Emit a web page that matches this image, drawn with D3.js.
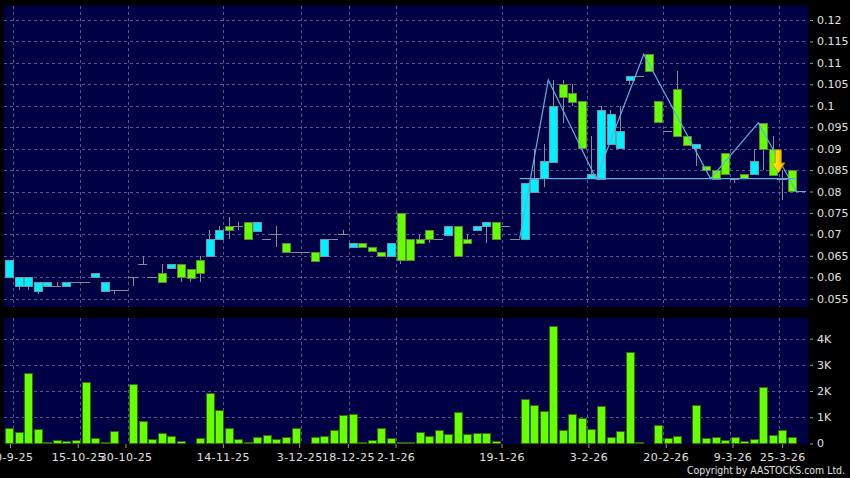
<!DOCTYPE html>
<html>
<head>
<meta charset="utf-8">
<script src="https://cdn.jsdelivr.net/npm/d3@7"></script>
<style>
  html, body { margin: 0; padding: 0; background: #000; }
  svg { display: block; }
  text { font-family: "DejaVu Sans", sans-serif; }
</style>
</head>
<body>
<div id="chart"></div>
<script>
// ----------------------
// DATA
// ----------------------
const opens = [
  0.060, 0.058, 0.058, 0.057, 0.058, 0.058, 0.058, 0.059, 0.059, 0.060,
  0.057, 0.057, 0.057, 0.060, 0.063, 0.060, 0.061, 0.062, 0.063, 0.062,
  0.064, 0.065, 0.069, 0.072, 0.072, 0.073, 0.071, 0.069, 0.070, 0.068,
  0.066, 0.066, 0.066, 0.065, 0.069, 0.070, 0.067, 0.068, 0.067, 0.066,
  0.065, 0.075, 0.069, 0.069, 0.071, 0.069, 0.070, 0.072, 0.069, 0.071,
  0.072, 0.073, 0.072, 0.069, 0.069, 0.080, 0.083, 0.087, 0.105, 0.103,
  0.101, 0.083, 0.083, 0.091, 0.090, 0.106, 0.107, 0.112, 0.101, 0.094,
  0.104, 0.093, 0.090, 0.086, 0.085, 0.089, 0.083, 0.084, 0.084, 0.096,
  0.090, 0.083, 0.085
];
const highs = [
  0.064, 0.060, 0.060, 0.059, 0.059, 0.059, 0.059, 0.059, 0.059, 0.061,
  0.059, 0.057, 0.057, 0.060, 0.065, 0.060, 0.063, 0.063, 0.063, 0.062,
  0.065, 0.071, 0.072, 0.074, 0.073, 0.073, 0.073, 0.069, 0.072, 0.068,
  0.066, 0.066, 0.066, 0.069, 0.069, 0.071, 0.068, 0.068, 0.067, 0.066,
  0.068, 0.075, 0.069, 0.070, 0.071, 0.069, 0.072, 0.072, 0.070, 0.072,
  0.073, 0.073, 0.072, 0.069, 0.082, 0.090, 0.091, 0.106, 0.106, 0.105,
  0.101, 0.093, 0.100, 0.099, 0.100, 0.107, 0.107, 0.112, 0.101, 0.094,
  0.108, 0.093, 0.091, 0.086, 0.085, 0.089, 0.083, 0.084, 0.090, 0.096,
  0.093, 0.085, 0.085
];
const lows = [
  0.060, 0.057, 0.057, 0.056, 0.058, 0.058, 0.058, 0.059, 0.059, 0.060,
  0.057, 0.056, 0.057, 0.058, 0.063, 0.060, 0.059, 0.062, 0.059, 0.059,
  0.059, 0.065, 0.069, 0.069, 0.071, 0.069, 0.071, 0.069, 0.067, 0.066,
  0.066, 0.066, 0.064, 0.065, 0.069, 0.070, 0.067, 0.067, 0.066, 0.065,
  0.065, 0.063, 0.064, 0.068, 0.068, 0.069, 0.070, 0.065, 0.068, 0.071,
  0.068, 0.069, 0.072, 0.069, 0.069, 0.080, 0.081, 0.087, 0.096, 0.100,
  0.090, 0.083, 0.083, 0.091, 0.090, 0.105, 0.107, 0.108, 0.096, 0.094,
  0.093, 0.091, 0.086, 0.085, 0.083, 0.084, 0.082, 0.083, 0.084, 0.085,
  0.084, 0.078, 0.080
];
const closes = [
  0.064, 0.060, 0.060, 0.059, 0.059, 0.058, 0.059, 0.059, 0.059, 0.061,
  0.059, 0.057, 0.057, 0.060, 0.063, 0.060, 0.059, 0.063, 0.060, 0.060,
  0.061, 0.069, 0.071, 0.071, 0.072, 0.069, 0.073, 0.069, 0.070, 0.066,
  0.066, 0.066, 0.064, 0.069, 0.069, 0.070, 0.068, 0.067, 0.066, 0.065,
  0.068, 0.064, 0.064, 0.068, 0.069, 0.069, 0.072, 0.065, 0.068, 0.072,
  0.073, 0.069, 0.072, 0.069, 0.082, 0.083, 0.087, 0.100, 0.102, 0.101,
  0.090, 0.084, 0.099, 0.098, 0.094, 0.107, 0.107, 0.108, 0.096, 0.094,
  0.093, 0.091, 0.091, 0.085, 0.083, 0.084, 0.083, 0.083, 0.087, 0.090,
  0.084, 0.083, 0.080
];
// volume in shares
const volumes = [
  580, 430, 2680, 540, 40, 130, 100, 130, 2340, 200,
  40, 480, 10, 2280, 860, 160, 390, 280, 100, 30,
  200, 1910, 1260, 580, 160, 50, 250, 310, 180, 260,
  580, 10, 260, 300, 500, 1070, 1140, 50, 140, 580,
  210, 50, 50, 430, 280, 500, 350, 1200, 350, 390,
  410, 110, 10, 30, 1700, 1460, 1220, 4500, 500, 1130,
  980, 540, 1420, 240, 490, 3470, 60, 10, 700, 200,
  290, 30, 1470, 200, 240, 130, 240, 110, 150, 2140,
  330, 520, 250
];

// date labels along the bottom, placed at (fractional) bar positions
const dateLabels = ["30-9-25", "15-10-25", "30-10-25", "14-11-25", "3-12-25", "18-12-25",
                    "2-1-26", "19-1-26", "3-2-26", "20-2-26", "9-3-26", "25-3-26"];
const datePos = [0.1, 7.2, 12.2, 22.4, 30.4, 35.5, 40.5, 51.6, 60.7, 68.8, 75.8, 81.0];
// the vertical grid lines sit a little off the date ticks
const gridPos = [0.45, 7.47, 12.5, 22.45, 30.56, 35.59, 40.51, 51.62, 60.59, 68.55, 75.57, 80.7];

const priceTicks = [0.055, 0.06, 0.065, 0.07, 0.075, 0.08, 0.085, 0.09, 0.095, 0.1, 0.105, 0.11, 0.115, 0.12];
const volTicks = [0, 1000, 2000, 3000, 4000];
const volTickLabels = ["0", "1K", "2K", "3K", "4K"];

// pattern overlay: zigzag through swing points and the neckline
const zigzagPos = [53.5, 56.5, 61.5, 66.5, 73.5, 78.5, 82.5, 83.5];
const zigzagPrice = [0.069, 0.106, 0.083, 0.112, 0.083, 0.096, 0.080, 0.080];
const necklinePos = [53.5, 82.5];
const necklinePrice = 0.083;
// breakdown arrow: position, top and tip price
const arrowPos = 80.6;
const arrowTop = 0.0897;
const arrowTip = 0.0843;

// ----------------------
// LAYOUT
// ----------------------
const W = 850, H = 478;
const panelLeft = 4, panelRight = 808;
const priceTop = 5.5, priceBottom = 307;
const volTop = 318, volBottom = 444;

const bg = "#000044";
const gridColor = "#5a5a88";
const upColor = "#00f0ff";
const downColor = "#66ff00";
const lineColor = "#5ab0e0";
const textColor = "#e0e0e0";

const svg = d3.select("#chart").append("svg")
  .attr("width", W)
  .attr("height", H)
  .style("background", "#000");

const n = opens.length;
const x = d3.scaleLinear().domain([0, n - 1]).range([9, 791.7]);
const step = x(1) - x(0);
const yP = d3.scaleLinear().domain([0.055, 0.12]).range([298.7, 20]);
const yV = d3.scaleLinear().domain([0, 4000]).range([443.4, 338.6]);

// panels
svg.append("rect").attr("x", panelLeft).attr("y", priceTop)
  .attr("width", panelRight - panelLeft).attr("height", priceBottom - priceTop).attr("fill", bg);
svg.append("rect").attr("x", panelLeft).attr("y", volTop)
  .attr("width", panelRight - panelLeft).attr("height", volBottom - volTop).attr("fill", bg);

// grid lines
const grid = svg.append("g")
  .attr("stroke", gridColor)
  .attr("stroke-dasharray", "3,3")
  .attr("shape-rendering", "crispEdges");

grid.selectAll(".hp").data(priceTicks).enter().append("line")
  .attr("x1", panelLeft).attr("x2", panelRight)
  .attr("y1", d => Math.round(yP(d)) + 0.5).attr("y2", d => Math.round(yP(d)) + 0.5);

grid.selectAll(".hv").data(volTicks.slice(1)).enter().append("line")
  .attr("x1", panelLeft).attr("x2", panelRight)
  .attr("y1", d => Math.round(yV(d)) + 0.5).attr("y2", d => Math.round(yV(d)) + 0.5);

gridPos.forEach(p => {
  const gx = Math.round(x(p)) + 0.5;
  grid.append("line").attr("x1", gx).attr("x2", gx).attr("y1", priceTop).attr("y2", priceBottom);
  grid.append("line").attr("x1", gx).attr("x2", gx).attr("y1", volTop).attr("y2", volBottom);
});

// ----------------------
// CANDLES
// ----------------------
const candles = svg.append("g").attr("shape-rendering", "crispEdges");
const bodyW = 7.6;

d3.range(n).forEach(i => {
  const cx = Math.round(x(i)) + 0.5;
  const o = opens[i], c = closes[i];
  if (highs[i] > lows[i]) {
    candles.append("line")
      .attr("x1", cx).attr("x2", cx)
      .attr("y1", yP(highs[i])).attr("y2", yP(lows[i]))
      .attr("stroke", "#8c8c8c");
  }
  if (o === c) {
    candles.append("line")
      .attr("x1", x(i) - step / 2).attr("x2", x(i) + step / 2)
      .attr("y1", Math.round(yP(o)) + 0.5).attr("y2", Math.round(yP(o)) + 0.5)
      .attr("stroke", "#8c8c8c");
  } else {
    const top = yP(Math.max(o, c)), bot = yP(Math.min(o, c));
    candles.append("rect")
      .attr("x", Math.round(x(i) - bodyW / 2) + 0.5)
      .attr("y", Math.round(top) + 0.5)
      .attr("width", Math.round(bodyW))
      .attr("height", Math.max(1, Math.round(bot - top)))
      .attr("fill", c > o ? upColor : downColor)
      .attr("stroke", c > o ? "#6f9aa8" : "#5d8a3a");
  }
});

// neckline and zigzag
svg.append("line")
  .attr("x1", x(necklinePos[0])).attr("x2", x(necklinePos[1]))
  .attr("y1", yP(necklinePrice)).attr("y2", yP(necklinePrice))
  .attr("stroke", lineColor).attr("stroke-width", 1.2);

svg.append("path")
  .datum(zigzagPos.map((p, k) => [p, zigzagPrice[k]]))
  .attr("fill", "none")
  .attr("stroke", lineColor)
  .attr("stroke-width", 1.2)
  .attr("d", d3.line().x(d => x(d[0])).y(d => yP(d[1])));

// yellow breakdown arrow
const defs = svg.append("defs");
const grad = defs.append("linearGradient").attr("id", "arrowGrad")
  .attr("x1", "0").attr("x2", "1").attr("y1", "0").attr("y2", "0");
grad.append("stop").attr("offset", "0%").attr("stop-color", "#ffe94a");
grad.append("stop").attr("offset", "55%").attr("stop-color", "#ffd400");
grad.append("stop").attr("offset", "100%").attr("stop-color", "#d99a00");

const ax = x(arrowPos), at = yP(arrowTop), ap = yP(arrowTip);
const headY = at + (ap - at) * 0.56;
svg.append("path")
  .attr("d", `M${ax - 3},${at} L${ax + 3},${at} L${ax + 3},${headY} L${ax + 6.5},${headY}
              L${ax},${ap} L${ax - 6.5},${headY} L${ax - 3},${headY} Z`)
  .attr("fill", "url(#arrowGrad)")
  .attr("stroke", "#c08a00")
  .attr("stroke-width", 0.8);

// ----------------------
// VOLUME
// ----------------------
svg.append("g").attr("shape-rendering", "crispEdges")
  .selectAll("rect")
  .data(volumes)
  .enter()
  .append("rect")
  .attr("x", (d, i) => Math.round(x(i) - bodyW / 2) + 0.5)
  .attr("y", d => Math.round(yV(d)) + 0.5)
  .attr("width", Math.round(bodyW))
  .attr("height", d => Math.max(0, Math.round(yV(0)) - Math.round(yV(d))))
  .attr("fill", downColor)
  .attr("stroke", "#2f6a10");

// ----------------------
// AXES
// ----------------------
const priceAxis = svg.append("g")
  .attr("transform", `translate(810,0)`)
  .call(d3.axisRight(yP).tickValues(priceTicks).tickSize(3).tickPadding(4)
    .tickFormat(d => String(+d.toFixed(3))));

const volAxis = svg.append("g")
  .attr("transform", `translate(810,0)`)
  .call(d3.axisRight(yV).tickValues(volTicks).tickSize(3).tickPadding(4)
    .tickFormat((d, i) => volTickLabels[i]));

const dateAxis = svg.append("g")
  .attr("transform", `translate(0,${volBottom})`)
  .call(d3.axisBottom(x).tickValues(datePos).tickSize(4).tickPadding(5)
    .tickFormat((d, i) => dateLabels[i]));

[priceAxis, volAxis, dateAxis].forEach(g => {
  g.select(".domain").remove();
  g.selectAll(".tick line").attr("stroke", "#9a9a9a");
  g.selectAll("text")
    .attr("fill", textColor)
    .style("font-size", "11px")
    .style("font-family", "'DejaVu Sans', sans-serif");
});
dateAxis.selectAll("text").attr("letter-spacing", "0.4px");

svg.append("text")
  .attr("x", 845).attr("y", 474)
  .attr("text-anchor", "end")
  .attr("fill", textColor)
  .style("font-size", "11px")
  .attr("textLength", 158)
  .attr("lengthAdjust", "spacingAndGlyphs")
  .text("Copyright by AASTOCKS.com Ltd.");
</script>
</body>
</html>
